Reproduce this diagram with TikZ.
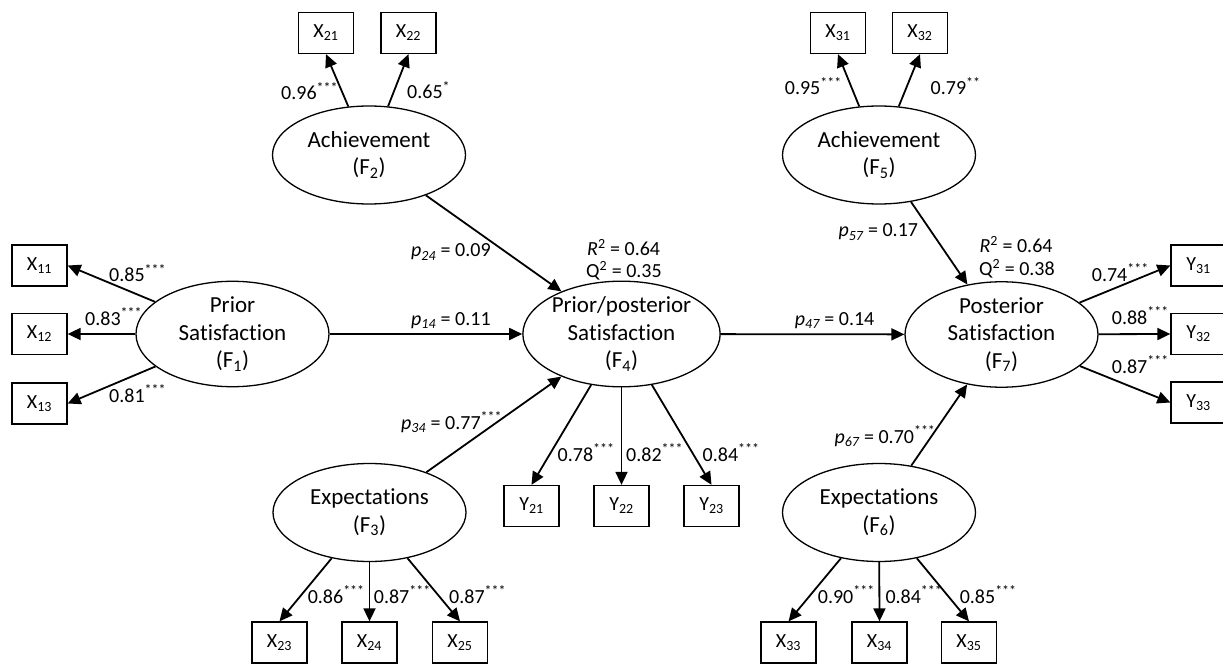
\documentclass[tikz,border=0pt]{standalone}
\usepackage{fontspec}
\setmainfont{Carlito}[Ligatures={NoCommon,NoContextual}]
\usetikzlibrary{arrows.meta,shapes.geometric}
\newcommand\pcoef[1]{\textit{p\textsubscript{#1}}}
\newcommand\sthree{\textsuperscript{***}}
\begin{document}
\begin{tikzpicture}[x=1pt,y=-1pt,
 lat/.style={ellipse, draw, line width=1.3pt, minimum width=193pt, minimum height=98pt, inner sep=0pt, align=center, font=\fontsize{23}{27.5}\selectfont},
 ind/.style={rectangle, draw, line width=1.3pt, minimum width=55pt, minimum height=41pt, inner sep=0pt, font=\fontsize{20}{24}\selectfont},
 arr/.style={-{Triangle[length=13pt,width=12pt]}, line width=1.8pt},
 lab/.style={anchor=base west, inner sep=0pt, font=\fontsize{20}{24}\selectfont}]
\useasboundingbox (0,0) rectangle (1223,668);
\clip (0,0) rectangle (1223,668);
% latent variables
\node[lat] (F1) at (232.5,334) {Prior\\Satisfaction\\(F\textsubscript{1})};
\node[lat] (F2) at (369,155) {Achievement\\(F\textsubscript{2})};
\node[lat] (F3) at (369.5,512.5) {Expectations\\(F\textsubscript{3})};
\node[lat] (F4) at (621.5,334) {Prior/posterior\\Satisfaction\\(F\textsubscript{4})};
\node[lat] (F5) at (879,155) {Achievement\\(F\textsubscript{5})};
\node[lat] (F6) at (879,512.5) {Expectations\\(F\textsubscript{6})};
\node[lat] (F7) at (1001.5,334.5) {Posterior\\Satisfaction\\(F\textsubscript{7})};
% indicators
\node[ind] (X11) at (39.5,265.5) {X\textsubscript{11}};
\node[ind] (X12) at (39.5,334) {X\textsubscript{12}};
\node[ind] (X13) at (39.5,403.5) {X\textsubscript{13}};
\node[ind] (X21) at (326,33) {X\textsubscript{21}};
\node[ind] (X22) at (408.5,33) {X\textsubscript{22}};
\node[ind] (X23) at (279.5,642.5) {X\textsubscript{23}};
\node[ind] (X24) at (369.5,642.5) {X\textsubscript{24}};
\node[ind] (X25) at (460,642.5) {X\textsubscript{25}};
\node[ind] (Y21) at (531.5,506) {Y\textsubscript{21}};
\node[ind] (Y22) at (621.5,506) {Y\textsubscript{22}};
\node[ind] (Y23) at (711.5,506) {Y\textsubscript{23}};
\node[ind] (X31) at (838,33) {X\textsubscript{31}};
\node[ind] (X32) at (920,33) {X\textsubscript{32}};
\node[ind] (X33) at (788.5,642.5) {X\textsubscript{33}};
\node[ind] (X34) at (879.5,642.5) {X\textsubscript{34}};
\node[ind] (X35) at (969,642.5) {X\textsubscript{35}};
\node[ind] (Y31) at (1198.5,265.5) {Y\textsubscript{31}};
\node[ind] (Y32) at (1198.5,334) {Y\textsubscript{32}};
\node[ind] (Y33) at (1198.5,402.5) {Y\textsubscript{33}};
% structural paths
\draw[arr] (F1) -- (F4);
\draw[arr] (F2) -- (F4);
\draw[arr] (F3) -- (F4);
\draw[arr] (F4) -- (F7);
\draw[arr] (F5) -- (F7);
\draw[arr] (F6) -- (F7);
% measurement paths
\draw[arr] (F1) -- (X11.east);
\draw[arr] (F1) -- (X12.east);
\draw[arr] (F1) -- (X13.east);
\draw[arr] (F2) -- (X21.south);
\draw[arr] (F2) -- (X22.south);
\draw[arr] (F3) -- (X23.north);
\draw[arr] (F3) -- (X24.north);
\draw[arr] (F3) -- (X25.north);
\draw[arr] (F4) -- (Y21.north);
\draw[arr] (F4) -- (Y22.north);
\draw[arr] (F4) -- (Y23.north);
\draw[arr] (F5) -- (X31.south);
\draw[arr] (F5) -- (X32.south);
\draw[arr] (F6) -- (X33.north);
\draw[arr] (F6) -- (X34.north);
\draw[arr] (F6) -- (X35.north);
\draw[arr] (F7) -- (Y31.west);
\draw[arr] (F7) -- (Y32.west);
\draw[arr] (F7) -- (Y33.west);
% labels
\node[lab] (l1) at (281,100) {0.96\sthree};
\node[lab] (l2) at (407,99) {0.65\textsuperscript{*}};
\node[lab] (l3) at (109,282) {0.85\sthree};
\node[lab] (l4) at (85,325) {0.83\sthree};
\node[lab] (l5) at (109,402) {0.81\sthree};
\node[lab] (l6) at (411,257) {\pcoef{24} = 0.09};
\node[lab] (l7) at (411,325) {\pcoef{14} = 0.11};
\node[lab] (l8) at (587,256) {\textit{R}\textsuperscript{2} = 0.64};
\node[lab] (l9) at (586,278) {Q\textsuperscript{2} = 0.35};
\node[lab] (l10) at (401,429) {\pcoef{34} = 0.77\sthree};
\node[lab] (l11) at (557.5,461) {0.78\sthree};
\node[lab] (l12) at (626,461) {0.82\sthree};
\node[lab] (l13) at (702.5,461) {0.84\sthree};
\node[lab] (l14) at (307.6,603) {0.86\sthree};
\node[lab] (l15) at (373.7,603) {0.87\sthree};
\node[lab] (l16) at (449,603) {0.87\sthree};
\node[lab] (l17) at (794.7,325) {\pcoef{47} = 0.14};
\node[lab] (l18) at (838.4,237) {\pcoef{57} = 0.17};
\node[lab] (l19) at (979.4,253) {\textit{R}\textsuperscript{2} = 0.64};
\node[lab] (l20) at (979,276) {Q\textsuperscript{2} = 0.38};
\node[lab] (l21) at (784.7,95) {0.95\sthree};
\node[lab] (l22) at (930.5,95) {0.79\textsuperscript{**}};
\node[lab] (l23) at (1091.7,281) {0.74\sthree};
\node[lab] (l24) at (1111.7,324) {0.88\sthree};
\node[lab] (l25) at (1111.7,373) {0.87\sthree};
\node[lab] (l26) at (834.4,443) {\pcoef{67} = 0.70\sthree};
\node[lab] (l27) at (817.7,603) {0.90\sthree};
\node[lab] (l28) at (885.3,603) {0.84\sthree};
\node[lab] (l29) at (959.6,603) {0.85\sthree};
\end{tikzpicture}
\end{document}
